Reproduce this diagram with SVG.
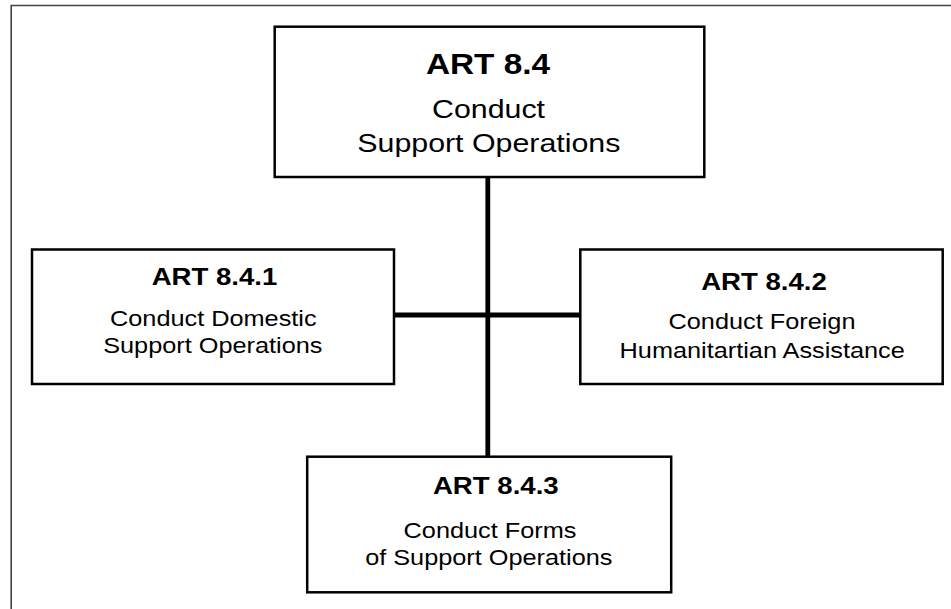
<svg xmlns="http://www.w3.org/2000/svg" width="951" height="609" viewBox="0 0 951 609">
<style>
.box{fill:#fff;stroke:#000;stroke-width:2.5}
.h{font-family:"Liberation Sans",Arial,sans-serif;font-weight:bold;fill:#000;text-anchor:middle}
.t{font-family:"Liberation Sans",Arial,sans-serif;fill:#000;text-anchor:middle}
.conn{stroke:#000;stroke-width:4.8;fill:none}
</style>
<rect x="0" y="0" width="951" height="609" fill="#fff"/>
<path d="M11.2,609 V5.5 H951" fill="none" stroke="#444" stroke-width="1.6"/>
<g id="connectors">
<line class="conn" x1="487.8" y1="177" x2="487.8" y2="456.7"/>
<line class="conn" x1="394" y1="315" x2="580.3" y2="315"/>
</g>
<g id="art84">
<rect class="box" x="274.7" y="26.7" width="429.6" height="150.3"/>
<text class="h" transform="matrix(1.15,0,0,1,488,0)" x="0" y="74.3" font-size="29">ART 8.4</text>
<text class="t" transform="matrix(1.19,0,0,1,488.5,0)" x="0" y="118.3" font-size="25.5">Conduct</text>
<text class="t" transform="matrix(1.19,0,0,1,488.8,0)" x="0" y="151.7" font-size="25.5">Support Operations</text>
</g>
<g id="art841">
<rect class="box" x="32" y="249.5" width="362" height="134.5"/>
<text class="h" transform="matrix(1.2,0,0,1,214.5,0)" x="0" y="285" font-size="23">ART 8.4.1</text>
<text class="t" transform="matrix(1.15,0,0,1,213.3,0)" x="0" y="326" font-size="22">Conduct Domestic</text>
<text class="t" transform="matrix(1.15,0,0,1,212.8,0)" x="0" y="353" font-size="22">Support Operations</text>
</g>
<g id="art842">
<rect class="box" x="580.3" y="249.5" width="362.4" height="134.5"/>
<text class="h" transform="matrix(1.2,0,0,1,764,0)" x="0" y="290" font-size="23">ART 8.4.2</text>
<text class="t" transform="matrix(1.15,0,0,1,762,0)" x="0" y="329.3" font-size="22">Conduct Foreign</text>
<text class="t" transform="matrix(1.15,0,0,1,762.2,0)" x="0" y="358.3" font-size="22">Humanitartian Assistance</text>
</g>
<g id="art843">
<rect class="box" x="307.2" y="456.7" width="364" height="135.6"/>
<text class="h" transform="matrix(1.2,0,0,1,495.8,0)" x="0" y="494" font-size="23">ART 8.4.3</text>
<text class="t" transform="matrix(1.15,0,0,1,490,0)" x="0" y="537.7" font-size="22">Conduct Forms</text>
<text class="t" transform="matrix(1.15,0,0,1,488.8,0)" x="0" y="565" font-size="22">of Support Operations</text>
</g>
</svg>
